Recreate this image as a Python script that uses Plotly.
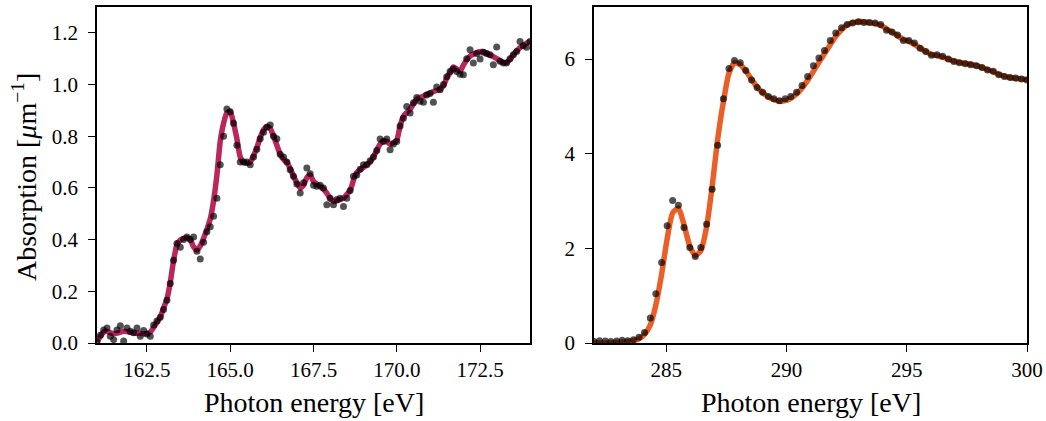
import plotly.graph_objects as go

# ---------------- Left panel (S L-edge region) ----------------
left_energy = [161.0, 161.1, 161.2, 161.3, 161.4, 161.5, 161.6, 161.7, 161.8, 161.9,
               162.0, 162.1, 162.2, 162.3, 162.4, 162.5, 162.6, 162.7, 162.8, 162.9,
               163.0, 163.1, 163.2, 163.3, 163.4, 163.5, 163.6, 163.7, 163.8, 163.9,
               164.0, 164.1, 164.2, 164.3, 164.4, 164.5, 164.6, 164.7, 164.8, 164.9,
               165.0, 165.1, 165.2, 165.3, 165.4, 165.5, 165.6, 165.7, 165.8, 165.9,
               166.0, 166.1, 166.2, 166.3, 166.4, 166.5, 166.6, 166.7, 166.8, 166.9,
               167.0, 167.1, 167.2, 167.3, 167.4, 167.5, 167.6, 167.7, 167.8, 167.9,
               168.0, 168.1, 168.2, 168.3, 168.4, 168.5, 168.6, 168.7, 168.8, 168.9,
               169.0, 169.1, 169.2, 169.3, 169.4, 169.5, 169.6, 169.7, 169.8, 169.9,
               170.0, 170.1, 170.2, 170.3, 170.4, 170.5, 170.6, 170.7, 170.8, 170.9,
               171.0, 171.1, 171.2, 171.3, 171.4, 171.5, 171.6, 171.7, 171.8, 171.9,
               172.0, 172.1, 172.2, 172.3, 172.4, 172.5, 172.6, 172.7, 172.8, 172.9,
               173.0, 173.1, 173.2, 173.3, 173.4, 173.5, 173.6, 173.7, 173.8, 173.9,
               174.0]

left_data = [0.005, 0.030, 0.050, 0.058, 0.026, 0.013, 0.050, 0.067, 0.008, 0.058,
             0.045, 0.040, 0.058, 0.026, 0.048, 0.035, 0.026, 0.070, 0.085, 0.100,
             0.130, 0.165, 0.230, 0.320, 0.385, 0.370, 0.400, 0.410, 0.400, 0.410,
             0.355, 0.325, 0.390, 0.430, 0.450, 0.490, 0.560, 0.690, 0.800, 0.905,
             0.895, 0.850, 0.765, 0.700, 0.700, 0.700, 0.690, 0.720, 0.750, 0.790,
             0.815, 0.835, 0.843, 0.800, 0.790, 0.730, 0.720, 0.700, 0.670, 0.645,
             0.615, 0.580, 0.620, 0.677, 0.655, 0.610, 0.606, 0.610, 0.600, 0.535,
             0.560, 0.535, 0.555, 0.560, 0.528, 0.560, 0.590, 0.645, 0.650, 0.672,
             0.690, 0.690, 0.705, 0.720, 0.745, 0.789, 0.780, 0.789, 0.748, 0.770,
             0.780, 0.840, 0.870, 0.915, 0.890, 0.930, 0.950, 0.935, 0.931, 0.960,
             0.965, 0.931, 0.990, 0.980, 1.000, 1.030, 1.050, 1.060, 1.050, 1.040,
             1.038, 1.100, 1.135, 1.083, 1.120, 1.099, 1.125, 1.120, 1.115, 1.077,
             1.145, 1.090, 1.083, 1.083, 1.100, 1.115, 1.128, 1.167, 1.150, 1.144,
             1.167]

left_fit = [0.005, 0.025, 0.042, 0.045, 0.040, 0.036, 0.038, 0.042, 0.045, 0.044,
            0.041, 0.039, 0.038, 0.037, 0.036, 0.037, 0.042, 0.060, 0.080, 0.100,
            0.135, 0.170, 0.235, 0.320, 0.380, 0.398, 0.405, 0.407, 0.400, 0.372,
            0.360, 0.375, 0.405, 0.440, 0.480, 0.550, 0.650, 0.780, 0.850, 0.890,
            0.895, 0.850, 0.790, 0.720, 0.700, 0.695, 0.700, 0.725, 0.755, 0.795,
            0.825, 0.838, 0.830, 0.800, 0.765, 0.730, 0.710, 0.700, 0.675, 0.645,
            0.620, 0.600, 0.610, 0.640, 0.650, 0.625, 0.615, 0.605, 0.595, 0.580,
            0.560, 0.548, 0.550, 0.555, 0.560, 0.575, 0.590, 0.630, 0.660, 0.670,
            0.680, 0.690, 0.700, 0.720, 0.745, 0.770, 0.780, 0.780, 0.770, 0.775,
            0.785, 0.840, 0.877, 0.892, 0.905, 0.925, 0.943, 0.950, 0.955, 0.962,
            0.967, 0.973, 0.977, 0.982, 0.995, 1.025, 1.046, 1.068, 1.060, 1.052,
            1.075, 1.095, 1.110, 1.118, 1.124, 1.127, 1.127, 1.120, 1.114, 1.108,
            1.100, 1.092, 1.085, 1.085, 1.098, 1.115, 1.130, 1.143, 1.152, 1.160,
            1.168]

left_xticks = [162.5, 165.0, 167.5, 170.0, 172.5]
left_yticks = [0.0, 0.2, 0.4, 0.6, 0.8, 1.0, 1.2]

# ---------------- Right panel (C K-edge region) ----------------
right_energy = [282.00, 282.23, 282.47, 282.70, 282.94, 283.17, 283.40, 283.64, 283.87, 284.10,
                284.34, 284.57, 284.81, 285.04, 285.27, 285.51, 285.74, 285.98, 286.21, 286.44,
                286.68, 286.91, 287.14, 287.38, 287.61, 287.84, 288.08, 288.31, 288.55, 288.78,
                289.01, 289.25, 289.48, 289.71, 289.95, 290.18, 290.42, 290.65, 290.88, 291.12,
                291.35, 291.58, 291.82, 292.05, 292.29, 292.52, 292.75, 292.99, 293.22, 293.45,
                293.69, 293.92, 294.16, 294.39, 294.62, 294.86, 295.09, 295.32, 295.56, 295.79,
                296.03, 296.26, 296.49, 296.73, 296.96, 297.19, 297.43, 297.66, 297.90, 298.13,
                298.36, 298.60, 298.83, 299.06, 299.30, 299.53, 299.77, 300.00]

right_data = [0.03, 0.05, 0.04, 0.03, 0.04, 0.06, 0.05, 0.07, 0.12, 0.22,
              0.53, 1.04, 1.70, 2.48, 3.01, 2.91, 2.44, 2.02, 1.83, 2.02,
              2.51, 3.25, 4.18, 5.16, 5.80, 5.97, 5.92, 5.76, 5.56, 5.40,
              5.30, 5.21, 5.16, 5.12, 5.16, 5.21, 5.30, 5.44, 5.63, 5.86,
              6.02, 6.18, 6.39, 6.55, 6.66, 6.73, 6.76, 6.79, 6.77, 6.77,
              6.76, 6.73, 6.61, 6.57, 6.51, 6.39, 6.39, 6.34, 6.23, 6.16,
              6.08, 6.09, 6.06, 6.00, 5.95, 5.92, 5.90, 5.88, 5.86, 5.82,
              5.77, 5.74, 5.67, 5.63, 5.61, 5.60, 5.58, 5.56]

right_fit = [0.00, 0.00, 0.00, 0.00, 0.01, 0.02, 0.03, 0.05, 0.09, 0.18,
             0.38, 0.80, 1.45, 2.20, 2.75, 2.85, 2.50, 2.05, 1.85, 1.95,
             2.45, 3.30, 4.30, 5.10, 5.70, 5.92, 5.88, 5.75, 5.57, 5.41,
             5.29, 5.20, 5.14, 5.11, 5.12, 5.17, 5.26, 5.39, 5.55, 5.74,
             5.93, 6.11, 6.30, 6.48, 6.62, 6.72, 6.77, 6.79, 6.79, 6.77,
             6.75, 6.71, 6.64, 6.57, 6.49, 6.42, 6.37, 6.31, 6.23, 6.16,
             6.10, 6.07, 6.04, 6.00, 5.96, 5.93, 5.91, 5.89, 5.86, 5.82,
             5.78, 5.73, 5.68, 5.64, 5.61, 5.59, 5.58, 5.57]

right_xticks = [285, 290, 295, 300]
right_yticks = [0, 2, 4, 6]

LEFT_COLOR = "#b9275b"
RIGHT_COLOR = "#ea5f27"
DOT_COLOR = "rgba(0,0,0,0.68)"
FONT = "Liberation Serif"

W, H = 1046, 421

fig = go.Figure()
fig.add_trace(go.Scatter(x=left_energy, y=left_fit, mode="lines",
                         line=dict(color=LEFT_COLOR, width=5.5, shape="spline", smoothing=0.6),
                         xaxis="x", yaxis="y", hoverinfo="skip"))
fig.add_trace(go.Scatter(x=left_energy, y=left_data, mode="markers",
                         marker=dict(color=DOT_COLOR, size=7, line=dict(width=0)),
                         xaxis="x", yaxis="y"))
fig.add_trace(go.Scatter(x=right_energy, y=right_fit, mode="lines",
                         line=dict(color=RIGHT_COLOR, width=5.5, shape="spline", smoothing=0.6),
                         xaxis="x2", yaxis="y2", hoverinfo="skip"))
fig.add_trace(go.Scatter(x=right_energy, y=right_data, mode="markers",
                         marker=dict(color=DOT_COLOR, size=7, line=dict(width=0)),
                         xaxis="x2", yaxis="y2"))

# plotting-area pixel boxes
L = (97, 530)
R = (594, 1027)
TOP, BOT = 7, 343

def xd(a, b):
    return [a / W, b / W]

ydom = [(H - BOT) / H, (H - TOP) / H]

axis_common = dict(showline=True, linecolor="black", linewidth=1.5, mirror=True,
                   ticks="outside", ticklen=7, tickwidth=1.3, tickcolor="black",
                   showgrid=False, zeroline=False, automargin=False,
                   tickfont=dict(family=FONT, size=21, color="black"))

fig.update_layout(
    template="none",
    width=W, height=H, autosize=False,
    margin=dict(l=0, r=0, t=0, b=0, pad=0),
    paper_bgcolor="white", plot_bgcolor="white",
    showlegend=False,
    font=dict(family=FONT, color="black"),
    xaxis=dict(domain=xd(*L), range=[161.0, 174.0], tickvals=left_xticks,
               ticktext=[f"{v:.1f}" for v in left_xticks], anchor="y", **axis_common),
    yaxis=dict(domain=ydom, range=[0, 1.3], tickvals=left_yticks, ticklabelstandoff=6,
               ticktext=[f"{v:.1f}" for v in left_yticks], anchor="x", **axis_common),
    xaxis2=dict(domain=xd(*R), range=[282, 300], tickvals=right_xticks,
                ticktext=[str(v) for v in right_xticks], anchor="y2", **axis_common),
    yaxis2=dict(domain=ydom, range=[0, 7.1], tickvals=right_yticks, ticklabelstandoff=6,
                ticktext=[str(v) for v in right_yticks], anchor="x2", **axis_common),
)

title_font = dict(family=FONT, size=28, color="black")
fig.add_annotation(text="Photon energy [eV]", xref="paper", yref="paper",
                   x=(L[0] + L[1]) / 2 / W, y=(H - 402) / H, showarrow=False,
                   xanchor="center", yanchor="middle", font=title_font)
fig.add_annotation(text="Photon energy [eV]", xref="paper", yref="paper",
                   x=(R[0] + R[1]) / 2 / W, y=(H - 402) / H, showarrow=False,
                   xanchor="center", yanchor="middle", font=title_font)
fig.add_annotation(text="Absorption [<i>μ</i>m<sup>−1</sup>]", xref="paper", yref="paper",
                   x=25 / W, y=(H - 177) / H, showarrow=False, textangle=-90,
                   xanchor="center", yanchor="middle", font=title_font)

fig.write_html("out.html")
